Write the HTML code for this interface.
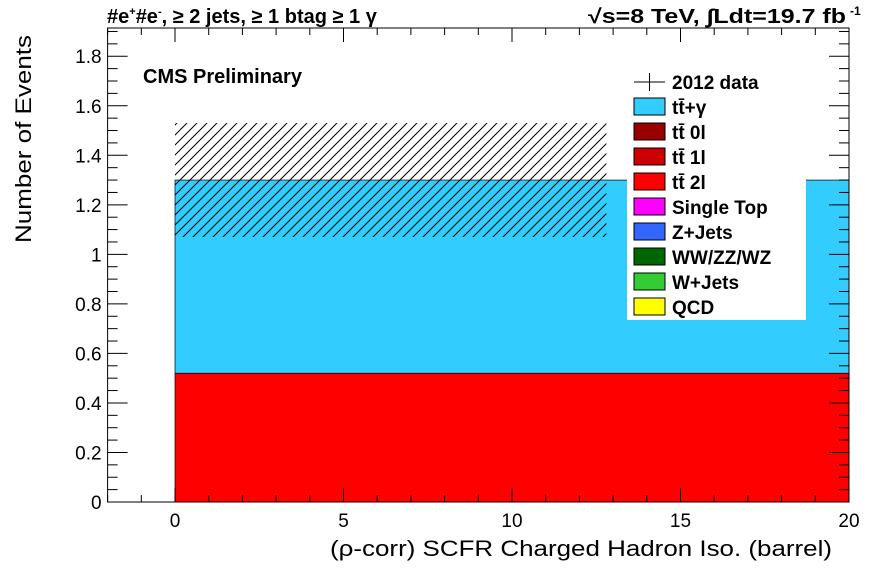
<!DOCTYPE html>
<html><head><meta charset="utf-8"><style>
body{margin:0;background:#fff;}
svg{display:block;font-family:"Liberation Sans",sans-serif;}
</style></head><body>
<svg id="c" width="896" height="572" viewBox="0 0 896 572">
<defs><pattern id="h" patternUnits="userSpaceOnUse" width="10" height="10">
<path d="M-2,12 L12,-2 M-2,2 L2,-2 M8,12 L12,8" stroke="#000" stroke-width="1"/></pattern></defs>
<g id="marks"></g>
<g id="axes"></g>
<text x="107" y="23" font-size="20" font-weight="bold">#e<tspan font-size="11" dy="-8">+</tspan><tspan dy="8">#e</tspan><tspan font-size="11" dy="-8">-</tspan><tspan dy="8">, ≥ 2 jets, ≥ 1 btag ≥ 1 γ</tspan></text>
<text x="588" y="23" font-size="20" font-weight="bold" textLength="258" lengthAdjust="spacingAndGlyphs">√s=8 TeV,   ∫Ldt=19.7 fb</text>
<text x="850" y="15" font-size="12" font-weight="bold">-1</text>
<text x="143" y="83" font-size="20" font-weight="bold">CMS Preliminary</text>
<text x="330" y="556" font-size="22" textLength="502" lengthAdjust="spacingAndGlyphs">(ρ-corr) SCFR Charged Hadron Iso. (barrel)</text>
<text transform="translate(31,243) rotate(-90)" font-size="22" textLength="208" lengthAdjust="spacingAndGlyphs">Number of Events</text>
<g id="legend"></g>
</svg>
<script>
const binEdges=[0,20];
const ttbar2l=[0.52];
const ttgamma=[0.78];
const errLow=[1.07];
const errHigh=[1.53];
const errXmax=12.8;
const xTicks=[0,5,10,15,20];
const yTicks=[0,0.2,0.4,0.6,0.8,1,1.2,1.4,1.6,1.8];
const legendNames=["2012 data","tt̄+γ","tt̄ 0l","tt̄ 1l","tt̄ 2l","Single Top","Z+Jets","WW/ZZ/WZ","W+Jets","QCD"];
const legendColors=[null,"#33ccff","#990000","#cc0000","#ff0000","#ff00ff","#3366ff","#006600","#33cc33","#ffff00"];
const X0=107.6,X1=849,Y0=502,Y1=28,xmin=-2,xmax=20,ymin=0,ymax=1.914;
const sx=v=>X0+(v-xmin)/(xmax-xmin)*(X1-X0);
const sy=v=>Y0-(v-ymin)/(ymax-ymin)*(Y0-Y1);
const NS="http://www.w3.org/2000/svg";
function mk(t,a,p){const e=document.createElementNS(NS,t);for(const k in a)e.setAttribute(k,a[k]);p.appendChild(e);return e;}
const M=document.getElementById('marks'),A=document.getElementById('axes'),L=document.getElementById('legend');
for(let i=0;i<ttbar2l.length;i++){
 const xa=sx(binEdges[i]),xb=sx(binEdges[i+1]);
 let r=mk('rect',{x:xa,y:sy(ttbar2l[i]),width:xb-xa,height:sy(0)-sy(ttbar2l[i]),fill:'#ff0000',stroke:'#000','stroke-width':0.7},M);
 
 const top=ttbar2l[i]+ttgamma[i];
 r=mk('rect',{x:xa,y:sy(top),width:xb-xa,height:sy(ttbar2l[i])-sy(top),fill:'#33ccff',stroke:'#000','stroke-width':0.7},M);
 
 r=mk('rect',{x:xa,y:sy(errHigh[i]),width:sx(errXmax)-xa,height:sy(errLow[i])-sy(errHigh[i]),fill:'url(#h)'},M);
 
}
mk('rect',{x:X0,y:Y1,width:X1-X0,height:Y0-Y1,fill:'none',stroke:'#000','stroke-width':1},A);
for(let v=-2;v<=20;v++){const x=sx(v),big=v%5==0;const l=big?14:7;
 mk('line',{x1:x,x2:x,y1:Y0,y2:Y0-l,stroke:'#000'},A);mk('line',{x1:x,x2:x,y1:Y1,y2:Y1+l,stroke:'#000'},A);}
xTicks.forEach(v=>{const t=mk('text',{x:sx(v),y:Y0+25,'font-size':19,'text-anchor':'middle'},A);t.textContent=v;
 });
for(let k=0;k<=38;k++){const v=k*0.05;if(v>ymax)break;const y=sy(v),big=k%4==0;const l=big?20:10;
 mk('line',{x1:X0,x2:X0+l,y1:y,y2:y,stroke:'#000'},A);mk('line',{x1:X1,x2:X1-l,y1:y,y2:y,stroke:'#000'},A);}
yTicks.forEach(v=>{const t=mk('text',{x:X0-6,y:sy(v)+7,'font-size':19,'text-anchor':'end'},A);t.textContent=String(+v.toFixed(1));
 });
let bg=mk('rect',{x:627,y:68,width:179,height:252,fill:'#fff'},L);

legendNames.forEach((n,i)=>{const y=82+i*25;
 const g=mk('g',{},L);
 if(!legendColors[i]){mk('line',{x1:634,x2:665,y1:y,y2:y,stroke:'#000'},g);mk('line',{x1:649.5,x2:649.5,y1:y-9,y2:y+9,stroke:'#000'},g);}
 else mk('rect',{x:634,y:y-9,width:31,height:17,fill:legendColors[i],stroke:'#000','stroke-width':1},g);
 const t=mk('text',{x:672,y:y+7,'font-size':19,'font-weight':'bold'},g);t.textContent=n;});
</script>
</body></html>
